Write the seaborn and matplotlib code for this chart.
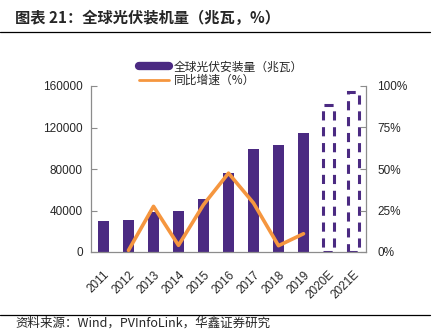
import matplotlib
matplotlib.use("Agg")
import matplotlib.pyplot as plt
import seaborn as sns
import numpy as np
import pandas as pd
from matplotlib.lines import Line2D

years = ["2011", "2012", "2013", "2014", "2015", "2016", "2017", "2018", "2019", "2020E", "2021E"]
capacity = [30000, 30500, 39000, 40000, 51500, 76500, 99000, 103000, 114500, 142000, 154000]
is_forecast = [False] * 9 + [True, True]
growth_years = ["2012", "2013", "2014", "2015", "2016", "2017", "2018", "2019"]
growth = [1.0, 27.5, 4.0, 28.5, 47.5, 29.5, 3.8, 11.0]

left_ticks = [0, 40000, 80000, 120000, 160000]
right_ticks = [0, 25, 50, 75, 100]

title = "图表 21：全球光伏装机量（兆瓦，%）"
bar_label = "全球光伏安装量（兆瓦）"
line_label = "同比增速（%）"
source = "资料来源：Wind，PVInfoLink，华鑫证券研究"

purple = "#4B2A82"
orange = "#F5963F"
spine_c = "#8C8C8C"

sns.set_style("white")
plt.rcParams["font.family"] = ["Liberation Sans", "Noto Sans CJK SC", "DejaVu Sans"]

fig = plt.figure(figsize=(4.4, 3.3), dpi=100)
ax = fig.add_axes([91 / 440, (330 - 252) / 330, (366 - 91) / 440, (252 - 86) / 330])

df = pd.DataFrame({"year": years, "cap": capacity})
sns.barplot(data=df, x="year", y="cap", color=purple, width=0.42, ax=ax,
            saturation=1, edgecolor="none", order=years)
for patch, fc in zip(ax.patches, is_forecast):
    if fc:
        patch.set_facecolor("none")
        patch.set_edgecolor(purple)
        patch.set_linestyle((0, (3, 2.2)))
        patch.set_linewidth(2.2)

ax.set_ylim(0, 160000)
ax.set_xlim(-0.5, len(years) - 0.5)
ax.set_yticks(left_ticks)
ax.set_yticklabels([str(v) for v in left_ticks], fontsize=8.5)
ax.set_xticks(range(len(years)))
ax.set_xticklabels(years, rotation=45, ha="right", rotation_mode="anchor", fontsize=8.5)
ax.tick_params(axis="x", length=0, pad=12)
ax.set_xticks(np.arange(-0.5, len(years), 1), minor=True)
ax.tick_params(axis="x", which="minor", direction="in", length=3, color=spine_c)
ax.tick_params(axis="y", direction="in", length=4, color=spine_c, pad=6)
ax.set_xlabel("")
ax.set_ylabel("")

ax2 = ax.twinx()
gx = [years.index(y) for y in growth_years]
sns.lineplot(x=gx, y=growth, color=orange, linewidth=2.6, ax=ax2)
ax2.set_ylim(0, 100)
ax2.set_yticks(right_ticks)
ax2.set_yticklabels([f"{v}%" for v in right_ticks], fontsize=8.5)
ax2.tick_params(axis="y", direction="in", length=4, color=spine_c, pad=8)
ax2.set_ylabel("")

for a in (ax, ax2):
    a.spines["top"].set_visible(False)
    for s in ("left", "right", "bottom"):
        a.spines[s].set_color(spine_c)
        a.spines[s].set_linewidth(0.9)
ax.spines["right"].set_visible(False)
ax2.spines["left"].set_visible(False)
ax2.spines["bottom"].set_visible(False)

handles = [Line2D([0], [0], color=purple, lw=6),
           Line2D([0], [0], color=orange, lw=2)]
fig.legend(handles, [bar_label, line_label], loc="upper left",
           bbox_to_anchor=(128 / 440, 1 - 50 / 330), frameon=False,
           handlelength=2.6, handletextpad=0.4, labelspacing=0.05,
           prop={"family": ["Noto Sans CJK SC", "DejaVu Sans"], "size": 8.5})

fig.text(15 / 440, 1 - 18 / 330, title, fontsize=11, fontweight="bold", va="center", ha="left",
         family=["Noto Sans CJK SC", "DejaVu Sans"])
fig.add_artist(Line2D([0, 430 / 440], [1 - 32 / 330] * 2, color="black", lw=0.9))
fig.add_artist(Line2D([0, 430 / 440], [1 - 315 / 330] * 2, color="black", lw=0.9))
fig.text(15 / 440, 1 - 323.5 / 330, source, fontsize=9, va="center", ha="left",
         family=["Noto Sans CJK SC", "DejaVu Sans"])

fig.savefig("out.png", dpi=100)
